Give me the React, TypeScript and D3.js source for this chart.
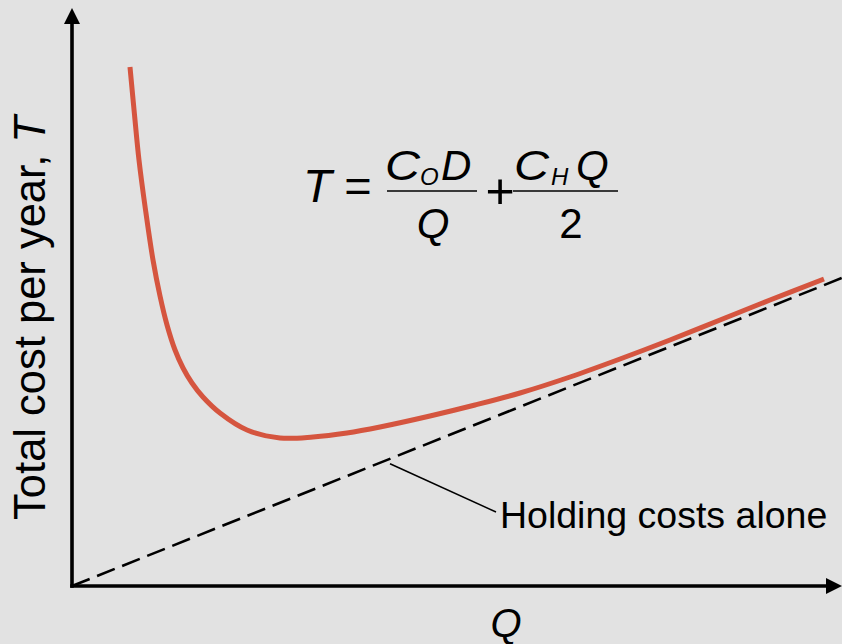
import React from "react";
import * as d3 from "d3";

// Total annual cost curve T(Q), read in chart units (Q: 0–100, T: 0–100)
const curveQ = [7.53, 8.12, 8.70, 9.55, 10.52, 11.43, 12.34, 13.38, 14.42, 15.58, 17.01, 19.22, 22.73, 27.01, 31.30, 35.71, 40.0, 46.49, 52.34, 58.18, 64.68, 71.17, 77.66, 84.16, 90.65, 97.66];
const curveT = [89.79, 81.49, 73.70, 65.05, 56.40, 50.17, 45.16, 40.83, 37.72, 35.12, 32.70, 29.93, 26.99, 25.61, 25.78, 26.47, 27.51, 29.41, 31.31, 33.39, 36.16, 39.27, 42.56, 46.02, 49.48, 53.11];

// Holding cost line (straight, through the origin)
const holdingQ = [0, 100];
const holdingT = [0, 53.3];

const W = 842;
const H = 644;
const origin = { x: 72, y: 586 };
const xEnd = 842;
const yTop = 8;

const FONT = "'Liberation Sans', Arial, Helvetica, sans-serif";
const RED = "#d5553f";

export default function App() {
  const x = d3.scaleLinear().domain([0, 100]).range([origin.x, xEnd]);
  const y = d3.scaleLinear().domain([0, 100]).range([origin.y, yTop]);

  const curvePts: [number, number][] = curveQ.map((q, i) => [q, curveT[i]]);
  const holdPts: [number, number][] = holdingQ.map((q, i) => [q, holdingT[i]]);

  const curveLine = d3
    .line<[number, number]>()
    .x((d) => x(d[0]))
    .y((d) => y(d[1]))
    .curve(d3.curveCatmullRom.alpha(0.5));
  const straight = d3
    .line<[number, number]>()
    .x((d) => x(d[0]))
    .y((d) => y(d[1]));

  // leader from the dashed line to its label
  const leaderQ = 41.3;
  const slope = holdingT[1] / holdingQ[1];
  const lx1 = x(leaderQ);
  const ly1 = y(leaderQ * slope) + 5;

  return (
    <svg
      width={W}
      height={H}
      viewBox={`0 0 ${W} ${H}`}
      style={{ position: "absolute", left: 0, top: 0, display: "block" }}
    >
      <rect x={0} y={0} width={W} height={H} fill="#e2e2e2" />

      {/* axes with arrowheads */}
      <line x1={origin.x} y1={origin.y + 1.8} x2={origin.x} y2={yTop + 14} stroke="#000" strokeWidth={3.6} />
      <path d={`M${origin.x},${yTop} L${origin.x - 8},${yTop + 16} L${origin.x + 8},${yTop + 16} Z`} fill="#000" />
      <line x1={origin.x - 1.8} y1={origin.y} x2={xEnd - 14} y2={origin.y} stroke="#000" strokeWidth={3.6} />
      <path d={`M${xEnd},${origin.y} L${xEnd - 16},${origin.y - 8} L${xEnd - 16},${origin.y + 8} Z`} fill="#000" />

      {/* holding cost line */}
      <path d={straight(holdPts) || ""} fill="none" stroke="#000" strokeWidth={2.6} strokeDasharray="19 8" />

      {/* total cost curve */}
      <path d={curveLine(curvePts) || ""} fill="none" stroke={RED} strokeWidth={5} strokeLinejoin="round" />

      {/* annotation */}
      <line x1={lx1} y1={ly1} x2={496} y2={512} stroke="#000" strokeWidth={1.5} />
      <text x={500} y={528} fontFamily={FONT} fontSize={37.5} fill="#000">
        Holding costs alone
      </text>

      {/* axis labels */}
      <text
        transform={`translate(45,318) rotate(-90)`}
        textAnchor="middle"
        fontFamily={FONT}
        fontSize={43.5}
        fill="#000"
      >
        Total cost per year, <tspan fontStyle="italic">T</tspan>
      </text>
      <text x={506} y={637} textAnchor="middle" fontFamily={FONT} fontSize={40} fontStyle="italic" fill="#000">
        Q
      </text>

      {/* formula */}
      <g fontFamily={FONT} fill="#000">
        <text x={303} y={202} fontSize={47} fontStyle="italic">T</text>
        <text x={358} y={202} fontSize={47} textAnchor="middle">=</text>
        <line x1={387} y1={191} x2={477} y2={191} stroke="#000" strokeWidth={1.6} />
        <text x={385} y={180} fontSize={42} fontStyle="italic" textLength={35} lengthAdjust="spacingAndGlyphs">C</text>
        <text x={420} y={185} fontSize={24} fontStyle="italic">O</text>
        <text x={441} y={180} fontSize={42} fontStyle="italic">D</text>
        <text x={433} y={238} fontSize={42} fontStyle="italic" textAnchor="middle">Q</text>
        <text x={500} y={208} fontSize={50} textAnchor="middle">+</text>
        <line x1={513} y1={191} x2={618} y2={191} stroke="#000" strokeWidth={1.6} />
        <text x={514} y={180} fontSize={42} fontStyle="italic" textLength={35} lengthAdjust="spacingAndGlyphs">C</text>
        <text x={551} y={185} fontSize={24} fontStyle="italic">H</text>
        <text x={576} y={180} fontSize={42} fontStyle="italic">Q</text>
        <text x={571} y={238} fontSize={42} textAnchor="middle">2</text>
      </g>
    </svg>
  );
}
